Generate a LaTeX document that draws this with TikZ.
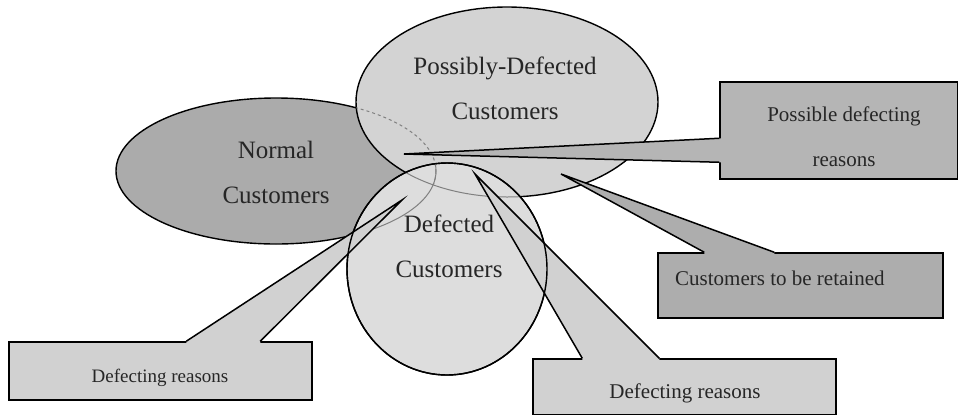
\documentclass[tikz,border=0pt]{standalone}
\usepackage{fontspec}
\setmainfont{Liberation Serif}
\usepackage{xcolor}
\definecolor{normalgray}{HTML}{ABABAB}
\definecolor{possiblegray}{HTML}{D3D3D3}
\definecolor{defectedgray}{HTML}{DDDDDD}
\definecolor{reasongray}{HTML}{B5B5B5}
\definecolor{retaingray}{HTML}{ADADAD}
\definecolor{lightbox}{HTML}{D1D1D1}
\definecolor{inkgray}{HTML}{262626}
\usetikzlibrary{calc}

\newcommand{\normalregion}{(276,171) ellipse [x radius=160, y radius=73]}
\newcommand{\possibleregion}{(507,102) ellipse [x radius=151, y radius=95]}
\newcommand{\defectedregion}{(447,269) ellipse [x radius=100, y radius=106]}

\begin{document}
\begin{tikzpicture}[x=1pt, y=-1pt,
  outline/.style={draw=black, line width=1.4pt},
  hidden/.style={draw=gray, line width=1pt},
  setlabel/.style={text=inkgray, align=center, font=\fontsize{25}{45}\selectfont},
  callbox/.style={draw=black, line width=1.5pt, rectangle, inner sep=0pt},
  calltext/.style={text=inkgray, inner sep=0pt}]
  \useasboundingbox (0,0) rectangle (959,416);

  % the three customer groups
  \filldraw[outline, fill=normalgray] \normalregion;
  \filldraw[outline, fill=possiblegray] \possibleregion;
  \filldraw[outline, fill=defectedgray] \defectedregion;

  % hidden edges seen through the lighter groups
  \begin{scope}
    \clip \possibleregion;
    \draw[hidden, dashed] \normalregion;
  \end{scope}
  \begin{scope}
    \clip \defectedregion;
    \draw[hidden] \normalregion;
    \draw[hidden] \possibleregion;
  \end{scope}

  \node[setlabel] (normal) at (276,172) {Normal\\Customers};
  \node[setlabel] (possible) at (505,88) {Possibly-Defected\\Customers};
  \node[setlabel] (defected) at (449,246) {Defected\\Customers};

  % possible defecting reasons
  \node[callbox, fill=reasongray, minimum width=237.5pt, minimum height=97pt] (reasonbox) at (838.75,130.5) {};
  \coordinate (reasontip) at (404,154);
  \coordinate (reasonA) at ($(reasonbox.north west)+(0,57)$);
  \coordinate (reasonB) at ($(reasonbox.north west)+(0,81)$);
  \fill[reasongray] (reasonA) -- (reasontip) -- (reasonB) -- ($(reasonB)+(3,0)$) -- ($(reasonA)+(3,0)$) -- cycle;
  \draw[line width=1.5pt] (reasonA) -- (reasontip) -- (reasonB);
  \node[calltext, align=center, font=\fontsize{21}{45}\selectfont] (reasontext) at (844,137) {Possible defecting\\reasons};

  % customers to be retained
  \node[callbox, fill=retaingray, minimum width=285pt, minimum height=65pt] (retainbox) at (800.5,285.5) {};
  \coordinate (retaintip) at (561,174);
  \coordinate (retainA) at ($(retainbox.north west)+(47,0)$);
  \coordinate (retainB) at ($(retainbox.north west)+(117,0)$);
  \fill[retaingray] (retainA) -- (retaintip) -- (retainB) -- ($(retainB)+(0,3)$) -- ($(retainA)+(0,3)$) -- cycle;
  \draw[line width=1.5pt] (retainA) -- (retaintip) -- (retainB);
  \node[calltext, anchor=base west, font=\fontsize{21}{25}\selectfont] (retaintext) at (675,285) {Customers to be retained};

  % defecting reasons, left
  \node[callbox, fill=lightbox, minimum width=303pt, minimum height=58pt] (leftbox) at (160.5,371) {};
  \coordinate (lefttip) at (402,200);
  \coordinate (leftA) at ($(leftbox.north west)+(178,0)$);
  \coordinate (leftB) at ($(leftbox.north west)+(252,0)$);
  \fill[lightbox] (leftA) -- (lefttip) -- (leftB) -- ($(leftB)+(0,3)$) -- ($(leftA)+(0,3)$) -- cycle;
  \draw[line width=1.5pt] (leftA) -- (lefttip) -- (leftB);
  \node[calltext, anchor=base, font=\fontsize{19}{23}\selectfont] (lefttext) at (160,382) {Defecting reasons};

  % defecting reasons, middle
  \node[callbox, fill=lightbox, minimum width=303pt, minimum height=55.5pt] (midbox) at (684.5,386.75) {};
  \coordinate (midtip) at (475,174);
  \coordinate (midA) at ($(midbox.north west)+(50,0)$);
  \coordinate (midB) at ($(midbox.north west)+(127,0)$);
  \fill[lightbox] (midA) -- (midtip) -- (midB) -- ($(midB)+(0,3)$) -- ($(midA)+(0,3)$) -- cycle;
  \draw[line width=1.5pt] (midA) -- (midtip) -- (midB);
  \node[calltext, anchor=base, font=\fontsize{21}{25}\selectfont] (midtext) at (685,398) {Defecting reasons};

  % edge of the defected group stays on top
  \draw[outline] \defectedregion;
\end{tikzpicture}
\end{document}
